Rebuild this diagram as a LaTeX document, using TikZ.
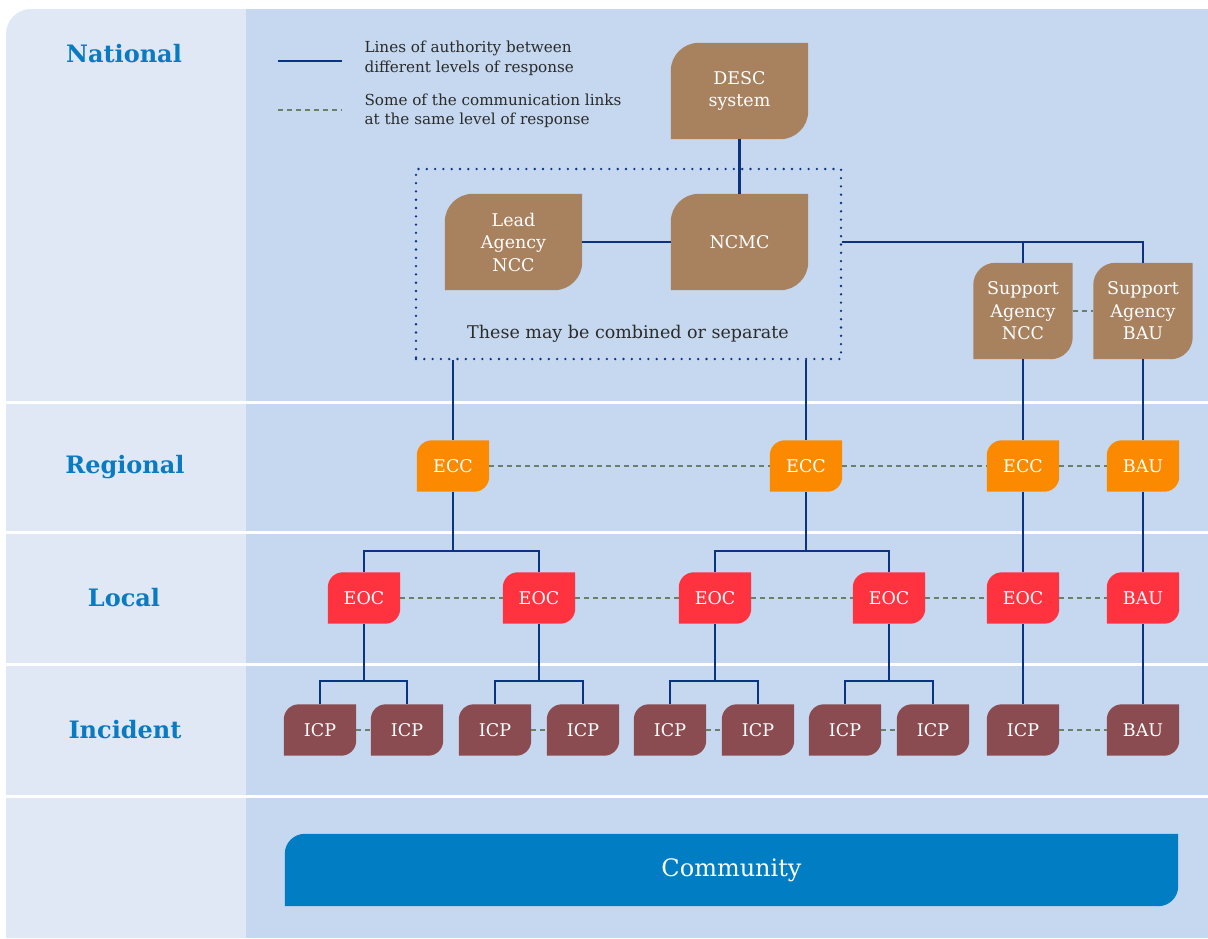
\documentclass[tikz,border=0pt]{standalone}
\usepackage{fontspec}
\setmainfont{DejaVu Serif}

\pgfdeclarelayer{panel}
\pgfdeclarelayer{boxes}
\pgfsetlayers{panel,boxes,main}

\definecolor{leftbg}{HTML}{E1E8F5}
\definecolor{mainbg}{HTML}{C5D8EF}
\definecolor{navy}{HTML}{0A3382}
\definecolor{linkgreen}{HTML}{6B8068}
\definecolor{brownbox}{HTML}{A8815F}
\definecolor{orangebox}{HTML}{FB8A00}
\definecolor{redbox}{HTML}{FF3340}
\definecolor{icpbox}{HTML}{8A4C51}
\definecolor{commblue}{HTML}{007DC3}
\definecolor{headblue}{HTML}{0A7BC2}
\definecolor{textdark}{HTML}{2B2B2B}

\tikzset{
  unit/.style={text=white, align=center, inner sep=0pt,
    font=\fontsize{17.5}{22.5}\selectfont},
  bigunit/.style={unit, minimum width=137pt, minimum height=96pt},
  supunit/.style={unit, minimum width=99pt, minimum height=96pt},
  smallunit/.style={unit, minimum width=72pt, minimum height=51pt},
  authority/.style={draw=navy, line width=2.5pt},
  commlink/.style={draw=linkgreen, line width=2.7pt, dash pattern=on 5pt off 4pt},
  level/.style={text=headblue, font=\bfseries\fontsize{24}{28}\selectfont},
  keytext/.style={text=textdark, align=left, anchor=west,
    font=\fontsize{15.2}{19.5}\selectfont},
  rowline/.style={draw=white, line width=3pt}
}

% fill behind a node: rounded top left and bottom right corners
\newcommand{\leaf}[3]{%
  \fill[#2] (#1.south west) -- ([yshift=-#3]#1.north west)
    arc[start angle=180, end angle=90, radius=#3] -- (#1.north east)
    -- ([yshift=#3]#1.south east)
    arc[start angle=0, end angle=-90, radius=#3] -- cycle;}

\begin{document}
\begin{tikzpicture}[x=1pt,y=-1pt]
  \useasboundingbox (0,0) rectangle (1208,938);

  \begin{pgfonlayer}{panel}
    \fill[leftbg] (6,938) -- (6,34) arc[start angle=180, end angle=90, radius=25pt]
      -- (246,9) -- (246,938) -- cycle;
    \fill[mainbg] (246,9) rectangle (1208,938);
    \foreach \y in {402.5,532.5,664,796}
      \draw[rowline] (6,\y) -- (1208,\y);
  \end{pgfonlayer}

  % levels of response
  \node[level] (national) at (124,54) {National};
  \node[level] (regional) at (125,467) {Regional};
  \node[level] (local) at (124,598) {Local};
  \node[level] (incident) at (125,730) {Incident};

  % key
  \coordinate (authA) at (278,61);
  \coordinate (authB) at (342,61);
  \draw[authority] (authA) -- (authB);
  \node[keytext] (authkey) at (361,58.5) {Lines of authority between\\different levels of response};
  \coordinate (commA) at (278,110);
  \coordinate (commB) at (342,110);
  \draw[commlink] (commA) -- (commB);
  \node[keytext] (commkey) at (361,111) {Some of the communication links\\at the same level of response};

  % national
  \node[bigunit] (desc) at (739.5,91) {DESC\\system};
  \node[bigunit] (lead) at (513.5,242) {Lead\\Agency\\NCC};
  \node[bigunit] (ncmc) at (739.5,242) {NCMC};
  \node[draw=navy, line width=2.6pt, line cap=round, dash pattern=on 0pt off 8.3pt,
    minimum width=425pt, minimum height=190pt] (combined) at (628.5,264) {};
  \node[text=textdark, font=\fontsize{17.5}{22}\selectfont] (note) at (628,334)
    {These may be combined or separate};
  \node[supunit] (supncc) at (1023,311) {Support\\Agency\\NCC};
  \node[supunit] (supbau) at (1143,311) {Support\\Agency\\BAU};

  % regional
  \node[smallunit] (ecc1) at (453,466) {ECC};
  \node[smallunit] (ecc2) at (806,466) {ECC};
  \node[smallunit] (ecc3) at (1023,466) {ECC};
  \node[smallunit] (bau1) at (1143,466) {BAU};

  % local
  \node[smallunit] (eoc1) at (364,598) {EOC};
  \node[smallunit] (eoc2) at (539,598) {EOC};
  \node[smallunit] (eoc3) at (715,598) {EOC};
  \node[smallunit] (eoc4) at (889,598) {EOC};
  \node[smallunit] (eoc5) at (1023,598) {EOC};
  \node[smallunit] (bau2) at (1143,598) {BAU};

  % incident
  \foreach \x [count=\i] in {320,407,495,583,670,758,845,933,1023}
    \node[smallunit] (icp\i) at (\x,730) {ICP};
  \node[smallunit] (bau3) at (1143,730) {BAU};

  \node[unit, minimum width=893pt, minimum height=72pt,
    font=\fontsize{24}{28}\selectfont] (community) at (731.5,870) {Community};

  \begin{pgfonlayer}{boxes}
    \foreach \n in {desc,lead,ncmc} \leaf{\n}{brownbox}{28pt};
    \foreach \n in {supncc,supbau} \leaf{\n}{brownbox}{22pt};
    \foreach \n in {ecc1,ecc2,ecc3,bau1} \leaf{\n}{orangebox}{15pt};
    \foreach \n in {eoc1,eoc2,eoc3,eoc4,eoc5,bau2} \leaf{\n}{redbox}{15pt};
    \foreach \n in {icp1,icp2,icp3,icp4,icp5,icp6,icp7,icp8,icp9,bau3}
      \leaf{\n}{icpbox}{15pt};
    \leaf{community}{commblue}{20pt};
  \end{pgfonlayer}

  % lines of authority
  \draw[authority] (desc) -- (ncmc);
  \draw[authority] (lead) -- (ncmc);
  \draw[authority] (ncmc -| combined.east) -- (ncmc -| supbau) -- (supbau);
  \draw[authority] (supncc |- ncmc) -- (supncc);
  \draw[authority] (ecc1 |- combined.south) -- (ecc1);
  \draw[authority] (ecc2 |- combined.south) -- (ecc2);
  \draw[authority] (supncc) -- (ecc3) -- (eoc5) -- (icp9);
  \draw[authority] (supbau) -- (bau1) -- (bau2) -- (bau3);

  \coordinate (forkA) at (453,551);
  \coordinate (forkB) at (806,551);
  \draw[authority] (ecc1) -- (forkA);
  \draw[authority] (eoc1) |- (forkA) -| (eoc2);
  \draw[authority] (ecc2) -- (forkB);
  \draw[authority] (eoc3) |- (forkB) -| (eoc4);

  \coordinate (forkC) at (364,681);
  \coordinate (forkD) at (539,681);
  \coordinate (forkE) at (715,681);
  \coordinate (forkF) at (889,681);
  \draw[authority] (eoc1) -- (forkC);
  \draw[authority] (icp1) |- (forkC) -| (icp2);
  \draw[authority] (eoc2) -- (forkD);
  \draw[authority] (icp3) |- (forkD) -| (icp4);
  \draw[authority] (eoc3) -- (forkE);
  \draw[authority] (icp5) |- (forkE) -| (icp6);
  \draw[authority] (eoc4) -- (forkF);
  \draw[authority] (icp7) |- (forkF) -| (icp8);

  % communication links
  \draw[commlink] (supncc) -- (supbau);
  \draw[commlink] (ecc1) -- (ecc2) -- (ecc3) -- (bau1);
  \draw[commlink] (eoc1) -- (eoc2) -- (eoc3) -- (eoc4) -- (eoc5) -- (bau2);
  \draw[commlink] (icp1) -- (icp2);
  \draw[commlink] (icp3) -- (icp4);
  \draw[commlink] (icp5) -- (icp6);
  \draw[commlink] (icp7) -- (icp8);
  \draw[commlink] (icp9) -- (bau3);
\end{tikzpicture}
\end{document}
